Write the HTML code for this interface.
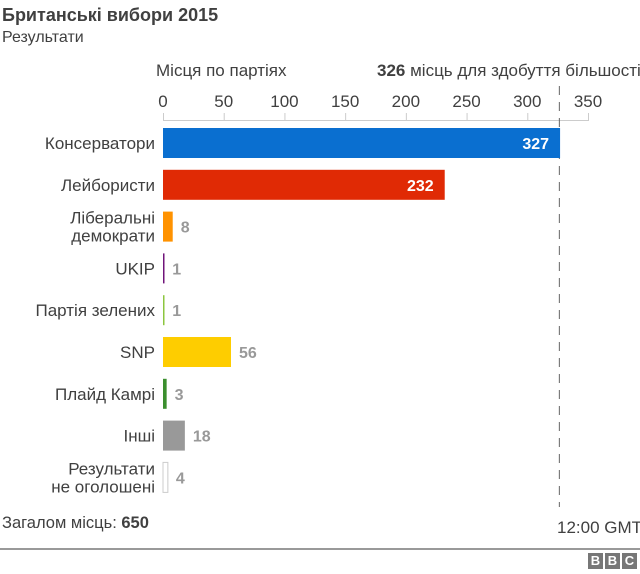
<!DOCTYPE html>
<html><head><meta charset="utf-8"><style>
body{margin:0;background:#fff;font-family:"Liberation Sans",sans-serif;}
#wrap{position:relative;width:640px;height:574px;overflow:hidden;}
.t{position:absolute;white-space:nowrap;color:#404040;}
</style></head><body>
<div id="wrap">
<div class="t" style="left:2px;top:5px;font-size:18px;font-weight:bold;">Британські вибори 2015</div>
<div class="t" style="left:2px;top:29px;font-size:16px;">Результати</div>
<div class="t" style="left:156px;top:61px;font-size:17px;">Місця по партіях</div>
<div class="t" style="left:377px;top:61px;font-size:17px;"><b>326</b> місць для здобуття більшості</div>
<svg id="svg" width="640" height="574" style="position:absolute;left:0;top:0"></svg>
<div class="t" style="left:2px;top:514px;font-size:16.5px;">Загалом місць: <b>650</b></div>
<div class="t" style="left:557px;top:518px;font-size:17px;">12:00 GMT</div>
<div style="position:absolute;left:0;top:548px;width:640px;height:2px;background:#999;"></div>
<div style="position:absolute;left:588px;top:553px;display:flex;gap:2px;">
<span style="width:15px;height:16px;background:#777;color:#fff;font:bold 13px 'Liberation Sans',sans-serif;text-align:center;line-height:16px;">B</span>
<span style="width:15px;height:16px;background:#777;color:#fff;font:bold 13px 'Liberation Sans',sans-serif;text-align:center;line-height:16px;">B</span>
<span style="width:15px;height:16px;background:#777;color:#fff;font:bold 13px 'Liberation Sans',sans-serif;text-align:center;line-height:16px;">C</span>
</div>
</div>
<script>
const categories=[["Консерватори"],["Лейбористи"],["Ліберальні","демократи"],["UKIP"],["Партія зелених"],["SNP"],["Плайд Камрі"],["Інші"],["Результати","не оголошені"]];
const seats=[327,232,8,1,1,56,3,18,4];
const colors=["#0a6fd0","#e02a05","#ff9200","#70147a","#8cc63f","#fecd00","#3b8f2e","#999999","#ffffff"];
const ticks=[0,50,100,150,200,250,300,350];
const majority=[326];
const NS="http://www.w3.org/2000/svg";
const svg=document.getElementById('svg');
const x=v=>163+v*(425/350);
const yc=i=>143+i*41.8;
function el(t,a){const e=document.createElementNS(NS,t);for(const k in a)e.setAttribute(k,a[k]);svg.appendChild(e);return e;}
el('line',{x1:x(0),x2:x(350),y1:120.5,y2:120.5,stroke:'#ccc'});
ticks.forEach(v=>{
 const l=el('line',{x1:x(v)+.5,x2:x(v)+.5,y1:113,y2:121,stroke:'#ccc'});
 
 
 const t=el('text',{x:x(v),y:107,'text-anchor':'middle','font-size':17,fill:'#404040','font-family':'Liberation Sans, sans-serif'});
 t.textContent=v;
 
 
});
const dl=el('line',{x1:x(majority[0])+.5,x2:x(majority[0])+.5,y1:86,y2:507,stroke:'#666','stroke-dasharray':'9,7'});


categories.forEach((c,i)=>{
 const cy=yc(i);
 const w=x(seats[i])-x(0);
 const r=el('rect',{x:x(0),y:cy-15,width:Math.max(w,1.5),height:30,fill:colors[i],stroke:i==8?'#ccc':'none'});
 
 
 const lab=el('text',{'text-anchor':'end','font-size':17,fill:'#404040','font-family':'Liberation Sans, sans-serif'});
 
 
 c.forEach((s,j)=>{const ts=document.createElementNS(NS,'tspan');ts.setAttribute('x',155);ts.setAttribute('y',cy+6+(j-(c.length-1)/2)*18);ts.textContent=s;lab.appendChild(ts);});
 const inside=seats[i]>100;
 const v=el('text',{x:inside?x(seats[i])-11:x(seats[i])+8,y:cy+6,'text-anchor':inside?'end':'start','font-size':16,'font-weight':'bold',fill:inside?'#fff':'#999','font-family':'Liberation Sans, sans-serif'});
 v.textContent=seats[i];
 
 
});
</script>
</body></html>
